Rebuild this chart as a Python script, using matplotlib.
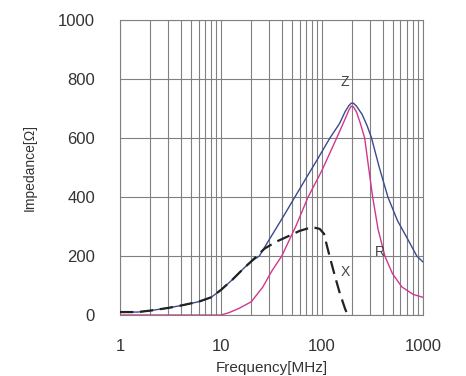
import matplotlib.pyplot as plt
from matplotlib.ticker import LogLocator, FixedLocator, NullFormatter

plt.rcParams['font.family'] = ['Liberation Sans', 'DejaVu Sans']

# |Z| curve
z_freq = [1, 1.5, 2, 3, 4, 6, 8, 10, 13, 17, 20, 24, 30, 40, 54, 70, 90, 120, 150, 170, 185, 195, 205, 220, 250, 280, 310, 370, 450, 560, 700, 870, 1000]
z_vals = [10, 10, 15, 24, 32, 45, 60, 85, 120, 160, 182, 200, 255, 325, 400, 465, 527, 600, 650, 690, 710, 718, 718, 708, 680, 642, 600, 500, 400, 320, 260, 200, 180]

# R curve
r_freq = [1, 10, 12, 15, 20, 26, 32, 40, 55, 73, 100, 140, 170, 185, 195, 205, 220, 240, 265, 290, 318, 360, 420, 500, 620, 800, 1000]
r_vals = [0, 0, 8, 22, 45, 95, 150, 200, 300, 400, 490, 600, 665, 695, 708, 706, 688, 650, 600, 500, 400, 290, 200, 140, 95, 70, 60]

# X curve
x_freq = [1, 1.5, 2, 3, 4, 6, 8, 10, 13, 17, 20, 27, 35, 45, 60, 80, 95, 105, 112, 120, 135, 150, 170, 180]
x_vals = [10, 10, 15, 24, 32, 45, 60, 85, 120, 160, 182, 225, 248, 265, 285, 298, 292, 275, 235, 195, 130, 75, 20, 0]

fig = plt.figure(figsize=(4.66, 3.76), dpi=100)
ax = fig.add_axes([0.2575, 0.1622, 0.650, 0.7846])

grid_col = '#808080'
ax.plot(z_freq, z_vals, color='#3b4a8c', lw=1.0, zorder=3)
ax.plot(r_freq, r_vals, color='#d0388e', lw=1.0, zorder=3)
ax.plot(x_freq, x_vals, color='#222222', lw=1.6, ls=(0, (6, 3)), zorder=4)

ax.set_xscale('log')
ax.set_xlim(1, 1000)
ax.set_ylim(0, 1000)
ax.xaxis.set_major_locator(FixedLocator([1, 10, 100, 1000]))
ax.xaxis.set_minor_locator(LogLocator(base=10, subs=range(2, 10)))
ax.xaxis.set_minor_formatter(NullFormatter())
ax.set_xticklabels(['1', '10', '100', '1000'])
ax.set_yticks([0, 200, 400, 600, 800, 1000])

ax.grid(True, which='both', axis='x', color=grid_col, lw=0.8)
ax.grid(True, which='major', axis='y', color=grid_col, lw=0.8)
for s in ax.spines.values():
    s.set_color(grid_col)
    s.set_linewidth(0.8)

ax.tick_params(which='both', length=0, colors='#333333', labelsize=12)
ax.tick_params(axis='x', pad=17)
ax.tick_params(axis='y', pad=18)

ax.set_ylabel('Impedance[Ω]', fontsize=10, color='#333333')
ax.yaxis.set_label_coords(-0.275, 0.5)
ax.set_xlabel('Frequency[MHz]', fontsize=11, color='#333333')
ax.xaxis.set_label_coords(0.5, -0.155)

ax.text(170, 790, 'Z', fontsize=10, color='#444444', ha='center', va='center')
ax.text(375, 213, 'R', fontsize=10, color='#444444', ha='center', va='center')
ax.text(170, 146, 'X', fontsize=10, color='#444444', ha='center', va='center')

fig.savefig('out.png', dpi=100)
